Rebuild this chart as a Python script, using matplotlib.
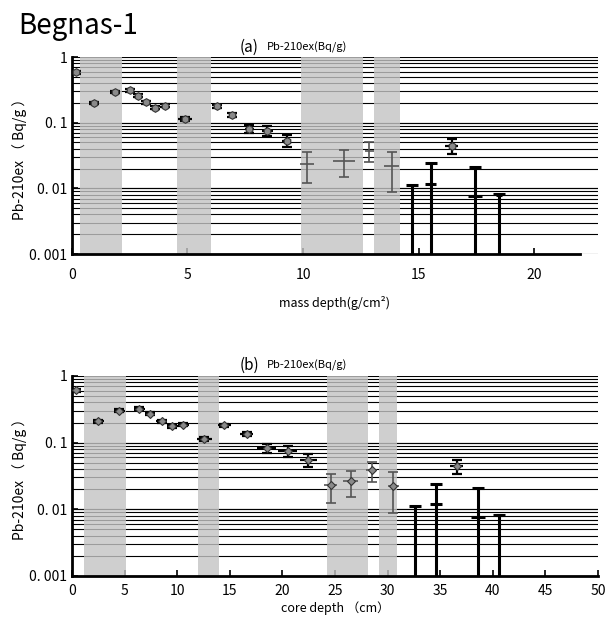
import matplotlib
matplotlib.use('Agg')
import matplotlib.pyplot as plt
import numpy as np

plt.rcParams['font.family'] = ['Noto Sans CJK JP', 'DejaVu Sans']

# (a) mass depth (g/cm2)
a_x = [0.17, 0.97, 1.86, 2.51, 2.84, 3.19, 3.61, 4.01, 4.89, 6.26, 6.94, 7.68,
       8.46, 9.29, 10.16, 11.77, 12.87, 13.84, 14.73, 15.53, 16.44, 17.45, 18.5]
a_val = [0.59, 0.20, 0.29, 0.31, 0.257, 0.204, 0.169, 0.181, 0.112, 0.179, 0.131, 0.080,
         0.0745, 0.053, 0.0231, 0.0263, 0.0369, 0.022, np.nan, 0.0116, 0.044, 0.0076, 0.008]
a_hi = [0.62, 0.21, 0.30, 0.325, 0.27, 0.214, 0.178, 0.19, 0.12, 0.188, 0.142, 0.093,
        0.090, 0.066, 0.0353, 0.0382, 0.050, 0.036, 0.0112, 0.024, 0.0556, 0.0209, 0.0082]
a_lo = [0.56, 0.19, 0.28, 0.295, 0.245, 0.195, 0.16, 0.172, 0.105, 0.17, 0.121, 0.069,
        0.062, 0.042, 0.0121, 0.0147, 0.0254, 0.00885, 0, 0, 0.0329, 0, 0]
a_xerr = [0.1, 0.15, 0.15, 0.12, 0.12, 0.12, 0.12, 0.12, 0.32, 0.12, 0.15, 0.2,
          0.22, 0.2, 0.3, 0.47, 0.2, 0.32, 0, 0.24, 0.29, 0.3, 0.13]
a_bands = [(0.36, 2.17), (4.56, 6.0), (9.92, 12.59), (13.08, 14.18)]

# (b) core depth (cm)
b_x = [0.38, 2.5, 4.5, 6.4, 7.41, 8.52, 9.54, 10.58, 12.58, 14.48, 16.6, 18.5,
       20.5, 22.47, 24.6, 26.5, 28.49, 30.54, 32.6, 34.6, 36.55, 38.6, 40.6]
b_val = [0.61, 0.209, 0.303, 0.325, 0.273, 0.209, 0.176, 0.187, 0.114, 0.182, 0.135, 0.083,
         0.074, 0.054, 0.0233, 0.0263, 0.0383, 0.0226, np.nan, 0.012, 0.044, 0.0076, 0.0081]
b_hi = [0.64, 0.22, 0.32, 0.34, 0.287, 0.22, 0.186, 0.197, 0.121, 0.192, 0.145, 0.096,
        0.090, 0.068, 0.0342, 0.038, 0.0506, 0.0358, 0.0113, 0.0239, 0.0557, 0.0209, 0.0081]
b_lo = [0.58, 0.199, 0.288, 0.31, 0.26, 0.199, 0.167, 0.178, 0.107, 0.173, 0.125, 0.071,
        0.061, 0.043, 0.0124, 0.0151, 0.0253, 0.0088, 0, 0, 0.0342, 0, 0]
b_xerr = [0.3, 0.5, 0.5, 0.5, 0.5, 0.5, 0.5, 0.5, 0.7, 0.6, 0.6, 0.9,
          0.9, 0.8, 0.6, 0.7, 0.5, 0.5, 0, 0.6, 0.6, 0.7, 0.3]
b_bands = [(1.17, 5.09), (11.95, 14.0), (24.2, 28.1), (29.2, 30.9)]

yticks = [0.001, 0.01, 0.1, 1]
ytick_labels = ['0. 001', '0. 01', '0. 1', '1']


def draw_panel(ax, x, val, hi, lo, xerr, bands, marker, msize, gray_markers):
    x = np.array(x)
    val = np.array(val, dtype=float)
    hi = np.array(hi)
    lo = np.maximum(np.array(lo), 1e-6)
    xerr = np.array(xerr)

    # horizontal grid, minor lines included
    for dec in [0.001, 0.01, 0.1]:
        for m in range(1, 11):
            ax.axhline(dec * m, color='black', lw=0.8, zorder=1)

    for b0, b1 in bands:
        ax.axvspan(b0, b1, color='#c4c4c4', alpha=0.8, lw=0, zorder=2)

    n = len(x)
    det = [i for i in range(n) if lo[i] <= 1e-5]
    normal = [i for i in range(n) if i not in det]
    gray = [i for i in normal if 14 <= i <= 17]
    black = [i for i in normal if i not in gray]

    # regular points
    for idx, col, lw in [(black, 'black', 1.6), (gray, '#555555', 1.2)]:
        ax.vlines(x[idx], lo[idx], hi[idx], color=col, lw=lw, zorder=3)
        ax.hlines(val[idx], x[idx] - xerr[idx], x[idx] + xerr[idx], color=col, lw=lw, zorder=3)
        ax.plot(x[idx], hi[idx], '_', color=col, ms=7, mew=lw, zorder=3)
        ax.plot(x[idx], lo[idx], '_', color=col, ms=7, mew=lw, zorder=3)
    shown = normal if gray_markers else black
    ax.plot(x[shown], val[shown], marker, ls='none', ms=msize, mfc='#8a8a8a',
            mec='#333333', mew=0.8, zorder=4)

    # detection-limit bars
    ax.vlines(x[det], lo[det], hi[det], color='black', lw=2.2, zorder=3)
    ax.plot(x[det], hi[det], '_', color='black', ms=8, mew=2.2, zorder=3)
    ax.hlines(val[det], x[det] - xerr[det], x[det] + xerr[det], color='black', lw=2.2, zorder=3)

    ax.set_yscale('log')
    ax.set_ylim(0.001, 1)
    ax.set_yticks(yticks)
    ax.set_yticklabels(ytick_labels, fontsize=10)
    ax.minorticks_off()
    ax.tick_params(axis='both', direction='in', length=4, width=1.2, labelsize=10)
    ax.tick_params(axis='x', pad=10)
    for s in ['top', 'right']:
        ax.spines[s].set_visible(False)
    ax.spines['left'].set_linewidth(2)
    ax.spines['bottom'].set_linewidth(2)
    ax.set_ylabel('Pb-210ex （ Bq/g ）', fontsize=10)
    ax.yaxis.set_label_coords(-0.085, 0.5)


fig = plt.figure(figsize=(6.06, 6.2), dpi=100)
ax1 = fig.add_axes([0.1188, 0.5903, 0.868, 0.3177])
ax2 = fig.add_axes([0.1188, 0.071, 0.868, 0.3226])

draw_panel(ax1, a_x, a_val, a_hi, a_lo, a_xerr, a_bands, 'h', 5.5, False)
ax1.set_xlim(0, 22.77)
ax1.spines['bottom'].set_bounds(0, 22)
ax1.set_xticks([0, 5, 10, 15, 20])
ax1.set_xlabel('mass depth(g/cm²)', fontsize=9, labelpad=10)

draw_panel(ax2, b_x, b_val, b_hi, b_lo, b_xerr, b_bands, 'D', 4.5, True)
ax2.set_xlim(0, 50)
ax2.set_xticks(range(0, 51, 5))
ax2.tick_params(axis='x', pad=6)
ax2.set_xlabel('core depth （cm）', fontsize=9, labelpad=2)

fig.text(0.03, 0.958, 'Begnas-1', fontsize=20, va='center')
fig.text(0.395, 0.924, '(a)', fontsize=11, va='center')
fig.text(0.44, 0.924, 'Pb-210ex(Bq/g)', fontsize=8, va='center')
fig.text(0.395, 0.41, '(b)', fontsize=11, va='center')
fig.text(0.44, 0.41, 'Pb-210ex(Bq/g)', fontsize=8, va='center')

fig.savefig('out.png', dpi=100)
plt.close(fig)
